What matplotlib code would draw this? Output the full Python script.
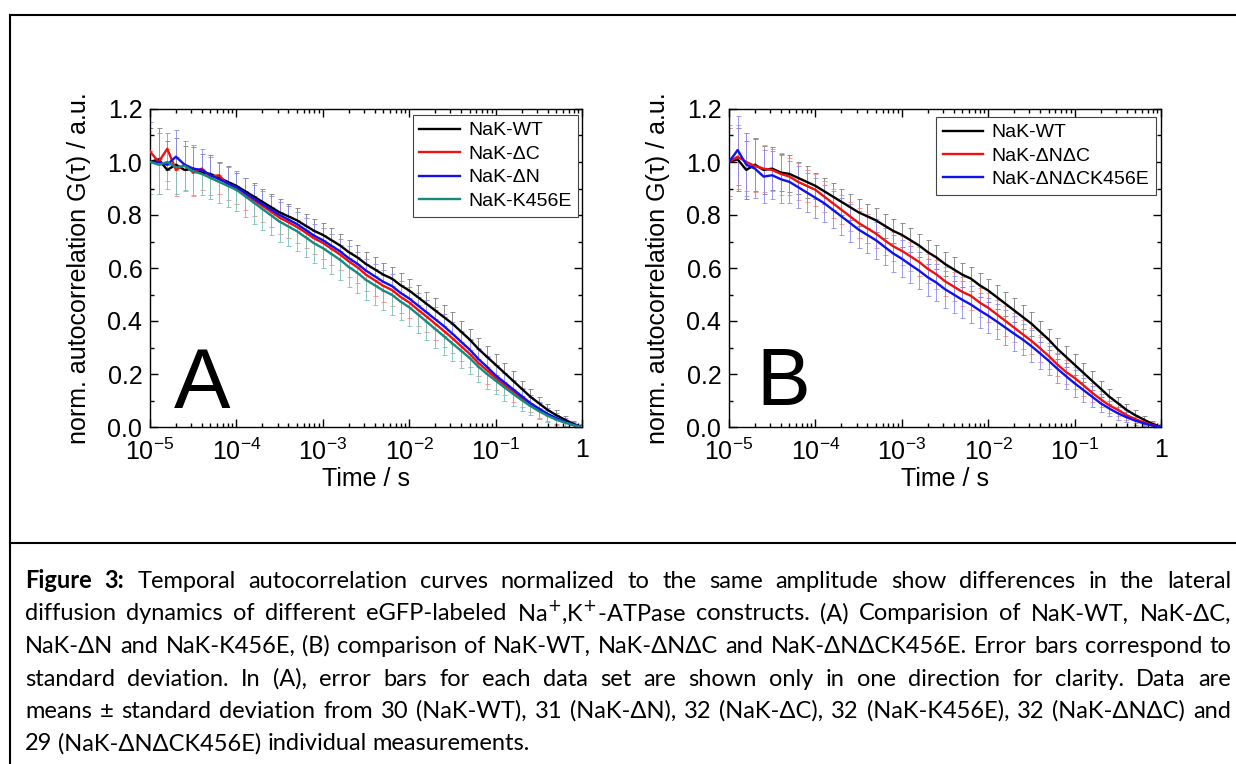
import numpy as np
import matplotlib
matplotlib.use("Agg")
import matplotlib.pyplot as plt
from matplotlib.lines import Line2D
from matplotlib.ticker import FuncFormatter, LogLocator, MultipleLocator

plt.rcParams['font.family'] = ['Liberation Sans', 'DejaVu Sans']
plt.rcParams['mathtext.fontset'] = 'custom'
plt.rcParams['mathtext.rm'] = 'Liberation Sans'
plt.rcParams['mathtext.it'] = 'Liberation Sans:italic'
plt.rcParams['mathtext.bf'] = 'Liberation Sans:bold'

# lag times (log10 of seconds)
log_time = [-5.0, -4.9, -4.8, -4.7, -4.6, -4.5, -4.4, -4.3, -4.2, -4.1,
            -4.0, -3.9, -3.8, -3.7, -3.6, -3.5, -3.4, -3.3, -3.2, -3.1,
            -3.0, -2.9, -2.8, -2.7, -2.6, -2.5, -2.4, -2.3, -2.2, -2.1,
            -2.0, -1.9, -1.8, -1.7, -1.6, -1.5, -1.4, -1.3, -1.2, -1.1,
            -1.0, -0.9, -0.8, -0.7, -0.6, -0.5, -0.4, -0.3, -0.2, -0.1, 0.0]

# normalized G(tau), panel A
g_wt = [1.00, 1.01, 0.97, 0.99, 0.97, 0.975, 0.96, 0.955, 0.94, 0.925,
        0.91, 0.89, 0.87, 0.85, 0.83, 0.81, 0.795, 0.78, 0.76, 0.74,
        0.725, 0.705, 0.685, 0.66, 0.64, 0.615, 0.595, 0.575, 0.56, 0.535,
        0.515, 0.49, 0.465, 0.44, 0.415, 0.39, 0.36, 0.33, 0.295, 0.265,
        0.235, 0.205, 0.175, 0.145, 0.115, 0.09, 0.065, 0.045, 0.028, 0.012, 0.0]
g_dc = [1.04, 1.00, 1.05, 0.97, 0.99, 0.96, 0.975, 0.945, 0.95, 0.915,
        0.90, 0.878, 0.856, 0.835, 0.813, 0.79, 0.773, 0.755, 0.734, 0.712,
        0.695, 0.673, 0.651, 0.625, 0.603, 0.575, 0.554, 0.533, 0.517, 0.491,
        0.47, 0.443, 0.417, 0.39, 0.363, 0.335, 0.305, 0.276, 0.242, 0.214,
        0.185, 0.16, 0.135, 0.11, 0.087, 0.065, 0.046, 0.03, 0.018, 0.007, 0.0]
g_dn = [1.00, 1.00, 0.99, 1.02, 0.99, 0.975, 0.97, 0.95, 0.935, 0.92,
        0.905, 0.884, 0.863, 0.842, 0.821, 0.80, 0.783, 0.766, 0.744, 0.722,
        0.705, 0.684, 0.663, 0.637, 0.616, 0.59, 0.569, 0.548, 0.532, 0.506,
        0.485, 0.459, 0.433, 0.407, 0.381, 0.352, 0.322, 0.292, 0.257, 0.227,
        0.195, 0.169, 0.143, 0.117, 0.091, 0.07, 0.05, 0.034, 0.02, 0.009, 0.0]
g_k456e = [1.00, 0.99, 1.00, 0.98, 0.985, 0.965, 0.955, 0.94, 0.925, 0.91,
           0.895, 0.871, 0.847, 0.823, 0.799, 0.775, 0.757, 0.739, 0.716, 0.693,
           0.675, 0.653, 0.631, 0.604, 0.582, 0.555, 0.535, 0.515, 0.499, 0.473,
           0.452, 0.425, 0.398, 0.37, 0.343, 0.315, 0.288, 0.26, 0.228, 0.20,
           0.175, 0.15, 0.126, 0.102, 0.08, 0.06, 0.043, 0.028, 0.017, 0.007, 0.0]

# standard deviations, panel A (shown in one direction only)
sd_wt = [0.13, 0.12, 0.11, 0.10, 0.09, 0.08, 0.07, 0.07, 0.06, 0.06,
         0.05, 0.05, 0.05, 0.05, 0.05, 0.05, 0.045, 0.045, 0.045, 0.045,
         0.045, 0.045, 0.045, 0.045, 0.045, 0.045, 0.045, 0.045, 0.045, 0.045,
         0.045, 0.045, 0.045, 0.045, 0.045, 0.045, 0.04, 0.04, 0.04, 0.04,
         0.04, 0.035, 0.035, 0.03, 0.03, 0.025, 0.02, 0.02, 0.015, 0.01, 0.01]
sd_dc = [0.14, 0.12, 0.12, 0.10, 0.10, 0.09, 0.08, 0.07, 0.07, 0.06,
         0.06, 0.06, 0.06, 0.06, 0.06, 0.06, 0.06, 0.06, 0.06, 0.06,
         0.06, 0.06, 0.06, 0.06, 0.06, 0.06, 0.06, 0.06, 0.06, 0.06,
         0.06, 0.06, 0.06, 0.06, 0.06, 0.055, 0.055, 0.05, 0.05, 0.05,
         0.045, 0.04, 0.04, 0.035, 0.03, 0.03, 0.025, 0.02, 0.015, 0.01, 0.01]
sd_dn = [0.15, 0.11, 0.12, 0.10, 0.09, 0.09, 0.08, 0.07, 0.06, 0.06,
         0.06, 0.055, 0.05, 0.05, 0.05, 0.05, 0.05, 0.045, 0.045, 0.045,
         0.045, 0.045, 0.045, 0.045, 0.045, 0.045, 0.045, 0.045, 0.045, 0.045,
         0.045, 0.045, 0.045, 0.045, 0.045, 0.045, 0.04, 0.04, 0.04, 0.04,
         0.04, 0.035, 0.035, 0.03, 0.03, 0.025, 0.02, 0.02, 0.015, 0.01, 0.01]
sd_k456e = [0.12, 0.11, 0.10, 0.10, 0.09, 0.09, 0.08, 0.08, 0.08, 0.08,
            0.08, 0.08, 0.08, 0.08, 0.075, 0.075, 0.075, 0.075, 0.075, 0.075,
            0.075, 0.075, 0.075, 0.075, 0.075, 0.075, 0.075, 0.075, 0.075, 0.07,
            0.07, 0.07, 0.07, 0.07, 0.07, 0.065, 0.065, 0.06, 0.06, 0.055,
            0.05, 0.05, 0.045, 0.04, 0.035, 0.03, 0.025, 0.02, 0.015, 0.01, 0.01]

# panel B (WT curve is the same data set as in A)
g_dndc = [1.00, 1.02, 1.00, 0.985, 0.975, 0.97, 0.955, 0.945, 0.925, 0.91,
          0.895, 0.87, 0.845, 0.82, 0.795, 0.77, 0.75, 0.73, 0.705, 0.682,
          0.665, 0.644, 0.623, 0.597, 0.576, 0.55, 0.53, 0.51, 0.495, 0.47,
          0.45, 0.425, 0.40, 0.375, 0.35, 0.325, 0.297, 0.268, 0.236, 0.208,
          0.185, 0.158, 0.13, 0.105, 0.082, 0.065, 0.045, 0.03, 0.018, 0.007, 0.0]
g_dndck = [1.00, 1.045, 0.99, 0.975, 0.945, 0.95, 0.935, 0.925, 0.905, 0.885,
           0.865, 0.845, 0.82, 0.795, 0.77, 0.745, 0.725, 0.705, 0.68, 0.655,
           0.635, 0.612, 0.59, 0.565, 0.545, 0.52, 0.50, 0.48, 0.462, 0.44,
           0.42, 0.398, 0.375, 0.352, 0.33, 0.305, 0.278, 0.25, 0.22, 0.192,
           0.165, 0.14, 0.115, 0.09, 0.07, 0.052, 0.037, 0.024, 0.014, 0.006, 0.0]
sd_dndc = [0.13, 0.12, 0.11, 0.10, 0.09, 0.08, 0.08, 0.07, 0.07, 0.06,
           0.06, 0.06, 0.055, 0.055, 0.055, 0.055, 0.055, 0.055, 0.055, 0.055,
           0.055, 0.055, 0.055, 0.055, 0.055, 0.055, 0.055, 0.055, 0.055, 0.055,
           0.055, 0.055, 0.055, 0.055, 0.055, 0.05, 0.05, 0.05, 0.045, 0.045,
           0.04, 0.04, 0.035, 0.03, 0.03, 0.025, 0.02, 0.015, 0.01, 0.01, 0.01]
sd_dndck = [0.14, 0.13, 0.12, 0.11, 0.10, 0.09, 0.09, 0.08, 0.08, 0.075,
            0.075, 0.07, 0.07, 0.07, 0.07, 0.07, 0.07, 0.07, 0.07, 0.07,
            0.07, 0.07, 0.07, 0.07, 0.07, 0.07, 0.07, 0.07, 0.07, 0.065,
            0.065, 0.065, 0.065, 0.065, 0.06, 0.06, 0.06, 0.055, 0.055, 0.05,
            0.05, 0.045, 0.04, 0.035, 0.03, 0.025, 0.02, 0.015, 0.01, 0.01, 0.01]

labels_a = ['NaK-WT', 'NaK-ΔC', 'NaK-ΔN', 'NaK-K456E']
labels_b = ['NaK-WT', 'NaK-ΔNΔC', 'NaK-ΔNΔCK456E']

caption_lines = [
    "Figure 3: Temporal autocorrelation curves normalized to the same amplitude show differences in the lateral",
    "diffusion dynamics of different eGFP-labeled Na$^{+}$,K$^{+}$-ATPase constructs. (A) Comparision of NaK-WT, NaK-ΔC,",
    "NaK-ΔN and NaK-K456E, (B) comparison of NaK-WT, NaK-ΔNΔC and NaK-ΔNΔCK456E. Error bars correspond to",
    "standard deviation. In (A), error bars for each data set are shown only in one direction for clarity. Data are",
    "means ± standard deviation from 30 (NaK-WT), 31 (NaK-ΔN), 32 (NaK-ΔC), 32 (NaK-K456E), 32 (NaK-ΔNΔC) and",
    "29 (NaK-ΔNΔCK456E) individual measurements.",
]

c_black = '#000000'
c_red = '#f01010'
c_blue = '#1010f0'
c_teal = '#178a7e'
e_black = '#7a7a7a'
e_red = '#f28a8a'
e_blue = '#8a8af2'
e_teal = '#76c2b9'

W, H = 1236, 764
fig = plt.figure(figsize=(W / 100, H / 100), dpi=100)


def add_px_axes(x0, y0, x1, y1):
    return fig.add_axes([x0 / W, 1 - y1 / H, (x1 - x0) / W, (y1 - y0) / H])


def time_label(v, pos):
    if abs(v - 1) < 1e-9:
        return '1'
    return r'$\mathregular{10^{%d}}$' % round(np.log10(v))


def style_axes(ax):
    ax.set_xscale('log')
    ax.set_xlim(1e-5, 1)
    ax.set_ylim(0, 1.2)
    ax.xaxis.set_major_locator(LogLocator(base=10, numticks=10))
    ax.xaxis.set_minor_locator(LogLocator(base=10, subs=np.arange(2, 10), numticks=20))
    ax.xaxis.set_major_formatter(FuncFormatter(time_label))
    ax.yaxis.set_major_locator(MultipleLocator(0.2))
    ax.yaxis.set_minor_locator(MultipleLocator(0.1))
    ax.yaxis.set_major_formatter(FuncFormatter(lambda v, p: '%.1f' % v))
    ax.tick_params(which='both', direction='in', top=True, right=True,
                   labelsize=18, width=1)
    ax.tick_params(which='major', length=6)
    ax.tick_params(which='minor', length=3)
    ax.tick_params(axis='x', pad=8)
    ax.tick_params(axis='y', pad=5.5)
    for s in ax.spines.values():
        s.set_linewidth(1)
    ax.set_xlabel('Time / s', fontsize=18, labelpad=2)
    ax.set_ylabel('norm. autocorrelation G(τ) / a.u.', fontsize=18, labelpad=12)


t = 10 ** np.array(log_time)
zero = np.zeros(len(t))
eb_kw = dict(fmt='none', elinewidth=0.7, capsize=1.8, capthick=0.7, alpha=0.85, zorder=1)
ln_kw = dict(lw=1.7, zorder=3)

# panel A
axA = add_px_axes(150, 109, 582, 427)
axA.errorbar(t, g_wt, yerr=[zero, sd_wt], ecolor=e_black, **eb_kw)
axA.errorbar(t, g_dn, yerr=[zero, sd_dn], ecolor=e_blue, **eb_kw)
axA.errorbar(t, g_dc, yerr=[sd_dc, zero], ecolor=e_red, **eb_kw)
axA.errorbar(t, g_k456e, yerr=[sd_k456e, zero], ecolor=e_teal, **eb_kw)
hA = []
for g, c in zip([g_wt, g_dc, g_dn, g_k456e], [c_black, c_red, c_blue, c_teal]):
    hA += axA.plot(t, g, color=c, **ln_kw)
style_axes(axA)
legA = axA.legend(hA, labels_a, loc='upper right', bbox_to_anchor=(0.991, 0.981),
                  fontsize=14, frameon=True, fancybox=False, framealpha=1,
                  edgecolor='#444444', borderpad=0.35, labelspacing=0.3,
                  handlelength=2.1, handletextpad=0.4, borderaxespad=0)
legA.get_frame().set_linewidth(0.8)

# panel B
axB = add_px_axes(729, 109, 1161, 427)
axB.errorbar(t, g_wt, yerr=sd_wt, ecolor=e_black, **eb_kw)
axB.errorbar(t, g_dndc, yerr=sd_dndc, ecolor=e_red, **eb_kw)
axB.errorbar(t, g_dndck, yerr=sd_dndck, ecolor=e_blue, **eb_kw)
hB = []
for g, c in zip([g_wt, g_dndc, g_dndck], [c_black, c_red, c_blue]):
    hB += axB.plot(t, g, color=c, **ln_kw)
style_axes(axB)
legB = axB.legend(hB, labels_b, loc='upper right', bbox_to_anchor=(0.988, 0.975),
                  fontsize=14, frameon=True, fancybox=False, framealpha=1,
                  edgecolor='#444444', borderpad=0.35, labelspacing=0.3,
                  handlelength=2.1, handletextpad=0.4, borderaxespad=0)
legB.get_frame().set_linewidth(0.8)

# panel letters
fig.text(174 / W, 1 - 408 / H, 'A', fontsize=61, ha='left', va='baseline')
fig.text(756 / W, 1 - 405 / H, 'B', fontsize=58, ha='left', va='baseline')

# frame lines around figure and caption
for xs, ys in [([10, W], [15, 15]), ([10, 10], [15, H]), ([10, W], [543, 543])]:
    fig.add_artist(Line2D([x / W for x in xs], [1 - y / H for y in ys],
                          transform=fig.transFigure, color='k', lw=1.5))

# caption, justified word by word
cap_family = ['Lato', 'DejaVu Sans']
cap_left, cap_right = 25, 1231
baselines = [588, 620.5, 653, 685.5, 718, 750.5]
renderer = fig.canvas.get_renderer()


def text_width(s, size, bold=False):
    tx = fig.text(0, 0, s, fontsize=size, family=cap_family,
                  fontweight='bold' if bold else 'normal', math_fontfamily='dejavusans')
    w = tx.get_window_extent(renderer).width
    tx.remove()
    return w


def line_words(i):
    words = caption_lines[i].split(' ')
    return [(w, i == 0 and j < 2) for j, w in enumerate(words)]


def natural_width(i, size):
    ws = [text_width(w, size, b) for w, b in line_words(i)]
    sp = text_width('a a', size) - text_width('aa', size)
    return sum(ws) + sp * (len(ws) - 1)


base = 16.0
widest = max(natural_width(i, base) for i in range(len(caption_lines) - 1))
cap_size = base * (cap_right - cap_left) * 0.99 / widest

space = text_width('a a', cap_size) - text_width('aa', cap_size)
for i, y in enumerate(baselines):
    words = line_words(i)
    ws = [text_width(w, cap_size, b) for w, b in words]
    if i < len(caption_lines) - 1:
        gap = (cap_right - cap_left - sum(ws)) / (len(ws) - 1)
    else:
        gap = space
    x = cap_left
    for (w, b), wd in zip(words, ws):
        fig.text(x / W, 1 - y / H, w, fontsize=cap_size, family=cap_family,
                 fontweight='bold' if b else 'normal', math_fontfamily='dejavusans',
                 ha='left', va='baseline')
        x += wd + gap

fig.savefig('out.png', dpi=100)
